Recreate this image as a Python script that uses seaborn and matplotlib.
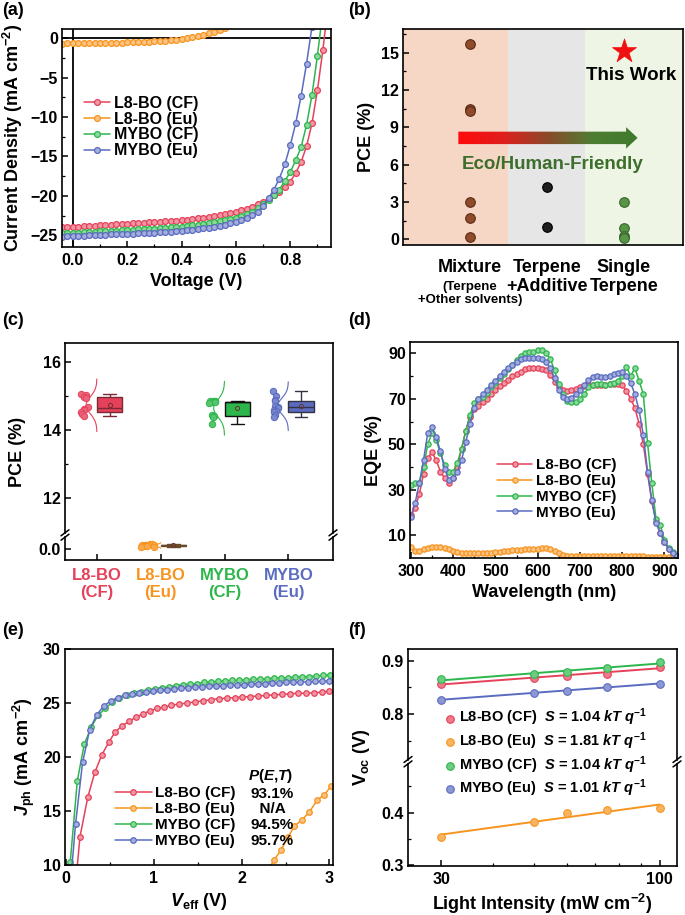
"""Six-panel device figure: J-V, literature PCE, PCE statistics, EQE, Jph-Veff and Voc vs light intensity."""

import matplotlib

matplotlib.use("Agg")
import matplotlib.pyplot as plt
import numpy as np
import seaborn as sns
from matplotlib.colors import LinearSegmentedColormap, to_rgb
from matplotlib.lines import Line2D
from matplotlib.patches import Polygon
from matplotlib.ticker import FixedFormatter, FixedLocator, MultipleLocator, NullFormatter
from matplotlib.transforms import blended_transform_factory

FIG_W, FIG_H = 685, 915

SAMPLES = ["L8-BO (CF)", "L8-BO (Eu)", "MYBO (CF)", "MYBO (Eu)"]
COLORS = ["#E5415A", "#F7941E", "#2DB64B", "#5A6BC0"]

# (a) J-V curves
voltage = [-0.04, -0.02, 0.00, 0.02, 0.04, 0.06, 0.08, 0.10, 0.12, 0.14,
           0.16, 0.18, 0.20, 0.22, 0.24, 0.26, 0.28, 0.30, 0.32, 0.34,
           0.36, 0.38, 0.40, 0.42, 0.44, 0.46, 0.48, 0.50, 0.52, 0.54,
           0.56, 0.58, 0.60, 0.62, 0.64, 0.66, 0.68, 0.70, 0.72, 0.74,
           0.76, 0.78, 0.80, 0.82, 0.84, 0.86, 0.88, 0.90, 0.92, 0.94]
jv_l8bo_cf = [-24.02, -23.98, -23.94, -23.90, -23.86, -23.82, -23.78, -23.74, -23.70, -23.66,
              -23.62, -23.58, -23.54, -23.50, -23.46, -23.42, -23.38, -23.34, -23.30, -23.25,
              -23.20, -23.14, -23.08, -23.01, -22.94, -22.86, -22.78, -22.69, -22.59, -22.48,
              -22.36, -22.22, -22.07, -21.85, -21.62, -21.36, -21.05, -20.72, -20.35, -19.95,
              -19.45, -18.90, -18.20, -17.10, -15.70, -13.70, -10.80, -6.60, -1.50, 4.50]
jv_l8bo_eu = [-0.65, -0.64, -0.63, -0.62, -0.61, -0.60, -0.59, -0.58, -0.57, -0.56,
              -0.55, -0.53, -0.51, -0.49, -0.47, -0.44, -0.41, -0.37, -0.33, -0.28,
              -0.22, -0.15, -0.07, 0.03, 0.15, 0.29, 0.45, 0.63, 0.84, 1.08, 1.36]
jv_mybo_cf = [-24.78, -24.74, -24.70, -24.66, -24.63, -24.59, -24.56, -24.52, -24.48, -24.45,
              -24.41, -24.37, -24.33, -24.30, -24.26, -24.23, -24.19, -24.16, -24.12, -24.07,
              -24.02, -23.96, -23.90, -23.83, -23.75, -23.67, -23.58, -23.48, -23.37, -23.25,
              -23.11, -22.95, -22.77, -22.56, -22.31, -22.00, -21.55, -21.05, -20.55, -19.95,
              -19.20, -18.10, -17.00, -15.50, -13.80, -11.00, -7.20, -2.20, 3.50, 9.00]
jv_mybo_eu = [-25.18, -25.15, -25.12, -25.09, -25.06, -25.03, -25.00, -24.97, -24.94, -24.91,
              -24.88, -24.85, -24.82, -24.79, -24.76, -24.73, -24.70, -24.67, -24.63, -24.59,
              -24.54, -24.49, -24.43, -24.37, -24.30, -24.22, -24.13, -24.03, -23.92, -23.80,
              -23.66, -23.50, -23.32, -23.10, -22.83, -22.48, -22.03, -21.30, -20.30, -19.20,
              -17.80, -16.00, -13.60, -10.80, -7.30, -3.20, 1.50, 6.00, 11.00, 16.00]

# (b) literature PCE by solvent type
solvent_types = ["Mixture", "Terpene\n+Additive", "Single\nTerpene"]
pce_mixture = [15.7, 10.5, 10.3, 3.0, 1.7, 0.2]
pce_additive = [4.2, 1.0]
pce_single = [3.0, 0.9, 0.3, 0.1]
pce_this_work = 15.1

# (c) PCE statistics
pce_l8bo_cf = [15.05, 15.02, 14.98, 14.95, 14.68, 14.62, 14.58, 14.52, 14.47, 14.40]
pce_l8bo_eu = [0.14, 0.13, 0.12, 0.11, 0.10, 0.10, 0.09, 0.08, 0.07, 0.06]
pce_mybo_cf = [14.85, 14.84, 14.84, 14.83, 14.82, 14.80, 14.45, 14.42, 14.38, 14.18]
pce_mybo_eu = [15.15, 15.00, 14.88, 14.85, 14.72, 14.68, 14.65, 14.58, 14.55, 14.52, 14.45, 14.38]
box_tick_labels = ["L8-BO\n(CF)", "L8-BO\n(Eu)", "MYBO\n(CF)", "MYBO\n(Eu)"]

# (d) EQE spectra
wavelength = [300, 310, 320, 330, 340, 350, 360, 370,
              380, 390, 400, 410, 420, 430, 440, 450,
              460, 470, 480, 490, 500, 510, 520, 530,
              540, 550, 560, 570, 580, 590, 600, 610,
              620, 630, 640, 650, 660, 670, 680, 690,
              700, 710, 720, 730, 740, 750, 760, 770,
              780, 790, 800, 810, 820, 830, 840, 850,
              860, 870, 880, 890, 900, 910, 920, 930]
eqe_l8bo_cf = [19, 22, 28, 37, 44, 46.5, 43, 38,
               35, 33, 35, 40, 48, 56, 62, 65.5,
               67, 68.5, 70, 72, 74, 75.5, 77, 78.5,
               80, 81, 82, 83, 83.5, 83.5, 83.5, 83,
               82.5, 80.5, 77.5, 75, 74, 73.5, 74, 74.5,
               75, 75.5, 76, 76, 76, 76, 76, 76.5,
               76.5, 76.5, 76, 73.5, 70, 66, 59, 50,
               37, 25, 16, 11, 7, 4, 2, 1]
eqe_l8bo_eu = [5, 3, 3, 4, 4.5, 5, 5, 5,
               4.5, 4, 3, 2.5, 2.3, 2.2, 2, 2,
               2, 2, 2.2, 2.3, 2.5, 2.7, 2.9, 3.1,
               3.3, 3.5, 3.6, 3.8, 3.9, 4, 4.1, 4.2,
               4.5, 4, 3, 2, 1.2, 1, 1, 1,
               1, 1, 1, 1, 1, 1, 0.9, 0.9,
               0.9, 0.9, 0.8, 0.8, 0.8, 0.7, 0.7, 0.7,
               0.6, 0.6, 0.5, 0.5, 0.4, 0.4, 0.3, 0.3]
eqe_mybo_cf = [32, 33, 33, 40, 50, 55, 52, 46,
               41, 38, 38, 42, 48, 56, 63, 68,
               70, 71, 72.5, 75, 77, 79, 81, 83,
               85, 87, 89, 90, 90.5, 90.5, 91.5, 91.5,
               90, 87.5, 82.5, 76.5, 72, 69, 68.5, 68.5,
               70, 72, 75, 76, 76.5, 76.5, 76, 76.5,
               77, 78, 80, 84, 80, 83.5, 78, 72,
               50.5, 33, 17, 14.5, 8, 4.5, 2.5, 1]
eqe_mybo_eu = [18, 24, 33, 43, 55, 57.5, 53, 47,
               39, 34.5, 35, 38, 43, 51, 59, 66,
               70, 72, 74, 76, 78, 80, 82, 83.5,
               85, 86, 87.5, 88, 88, 88, 88, 87.5,
               86, 83.5, 79, 74, 71, 70, 70.5, 72,
               74, 76, 78.5, 79.5, 80, 79.5, 79.5, 80,
               81, 81.5, 82, 80, 77, 72, 65, 54,
               38, 25.5, 15.5, 11, 7, 4, 2, 1]

# (e) photocurrent vs effective voltage
veff_l8bo_cf = [0.12, 0.16, 0.25, 0.33, 0.41, 0.49, 0.56, 0.64, 0.72, 0.80,
                0.88, 0.96, 1.04, 1.12, 1.20, 1.29, 1.38, 1.47, 1.56, 1.65,
                1.74, 1.83, 1.92, 2.01, 2.10, 2.19, 2.28, 2.37, 2.46, 2.55,
                2.64, 2.73, 2.82, 2.91, 3.00]
jph_l8bo_cf = [9.0, 12.6, 16.3, 18.6, 20.2, 21.4, 22.3, 22.9, 23.3, 23.7,
               24.0, 24.3, 24.5, 24.6, 24.8, 24.9, 25.0, 25.1, 25.2, 25.3,
               25.4, 25.45, 25.5, 25.55, 25.6, 25.65, 25.7, 25.75, 25.8, 25.85,
               25.9, 25.9, 25.95, 26.0, 26.1]
veff_l8bo_eu = [2.29, 2.37, 2.45, 2.53, 2.60, 2.69, 2.77, 2.86, 2.94, 3.02]
jph_l8bo_eu = [9.4, 10.46, 11.4, 12.6, 13.6, 14.2, 14.9, 16.0, 16.5, 17.3]
veff_mybo_cf = [0.05, 0.13, 0.21, 0.29, 0.37, 0.45, 0.53, 0.61, 0.69, 0.77,
                0.85, 0.93, 1.01, 1.09, 1.17, 1.25, 1.33, 1.41, 1.49, 1.57,
                1.65, 1.73, 1.81, 1.89, 1.97, 2.05, 2.13, 2.21, 2.29, 2.37,
                2.45, 2.53, 2.61, 2.69, 2.77, 2.85, 2.93, 3.01]
jph_mybo_cf = [10.3, 17.8, 21.2, 22.8, 23.9, 24.5, 25.1, 25.5, 25.7, 25.9,
               26.0, 26.2, 26.3, 26.4, 26.5, 26.6, 26.7, 26.75, 26.8, 26.9,
               26.95, 27.0, 27.05, 27.1, 27.1, 27.15, 27.2, 27.2, 27.25, 27.3,
               27.3, 27.35, 27.4, 27.45, 27.45, 27.5, 27.55, 27.6]
veff_mybo_eu = [0.06, 0.11, 0.19, 0.27, 0.35, 0.43, 0.51, 0.59, 0.67, 0.75,
                0.83, 0.91, 0.99, 1.07, 1.15, 1.23, 1.31, 1.39, 1.47, 1.55,
                1.63, 1.71, 1.79, 1.87, 1.95, 2.03, 2.11, 2.19, 2.27, 2.35,
                2.43, 2.51, 2.59, 2.67, 2.75, 2.83, 2.91, 2.99]
jph_mybo_eu = [9.0, 13.8, 19.5, 22.5, 23.9, 24.7, 25.2, 25.5, 25.7, 25.8,
               25.9, 26.0, 26.1, 26.2, 26.25, 26.3, 26.35, 26.4, 26.45, 26.5,
               26.55, 26.6, 26.6, 26.65, 26.7, 26.7, 26.75, 26.8, 26.8, 26.85,
               26.85, 26.9, 26.9, 26.95, 26.95, 27.0, 27.0, 27.05]
pet_values = ["93.1%", "  N/A", "94.5%", "95.7%"]

# (f) Voc vs light intensity
light_intensity = [30, 50, 60, 75, 100]
voc_l8bo_cf = [0.857, 0.868, 0.871, 0.876, 0.889]
voc_l8bo_eu = [0.354, 0.382, 0.399, 0.406, 0.408]
voc_mybo_cf = [0.865, 0.875, 0.879, 0.887, 0.897]
voc_mybo_eu = [0.827, 0.839, 0.844, 0.851, 0.857]
slope_labels = ["1.04", "1.81", "1.04", "1.01"]


def tint(color, amount=0.45):
    rgb = np.array(to_rgb(color))
    return tuple(rgb + (1 - rgb) * amount)


def add_ax(fig, left, top, right, bottom):
    """Axes from pixel edges measured from the top-left corner."""
    return fig.add_axes([left / FIG_W, 1 - bottom / FIG_H, (right - left) / FIG_W, (bottom - top) / FIG_H])


def line_style(color, size=4.2):
    return dict(color=color, marker="o", markersize=size, markerfacecolor=tint(color),
                markeredgecolor=color, markeredgewidth=0.9, linewidth=1.1)


def place_legend(fig, ax, x_px, y_px, fontsize, handlelength, labelspacing, loc="center left",
                 handles=None, labels=None, **kwargs):
    if handles is None:
        handles, labels = ax.get_legend_handles_labels()
    if ax is not None and ax.get_legend() is not None:
        ax.get_legend().remove()
    return fig.legend(handles, labels, loc=loc, bbox_to_anchor=(x_px / FIG_W, 1 - y_px / FIG_H),
                      frameon=False, fontsize=fontsize, handlelength=handlelength, handletextpad=0.25,
                      labelspacing=labelspacing, borderpad=0, borderaxespad=0, **kwargs)


def break_marks(fig, x_px, y_px):
    for dy in (-2.2, 2.2):
        fig.add_artist(Line2D([(x_px - 4) / FIG_W, (x_px + 4) / FIG_W],
                              [1 - (y_px + dy + 3) / FIG_H, 1 - (y_px + dy - 3) / FIG_H],
                              transform=fig.transFigure, color="black", lw=1.1))


def panel_label(fig, x_px, y_px, text):
    fig.text(x_px / FIG_W, 1 - y_px / FIG_H, text, fontsize=13, fontweight="bold", va="top", ha="left")


sns.set_theme(style="ticks", rc={
    "axes.linewidth": 1.2, "axes.edgecolor": "black", "axes.labelcolor": "black",
    "text.color": "black", "xtick.color": "black", "ytick.color": "black",
    "xtick.direction": "in", "ytick.direction": "in",
    "xtick.major.size": 4, "ytick.major.size": 4, "xtick.minor.size": 2.2, "ytick.minor.size": 2.2,
    "xtick.major.width": 1.1, "ytick.major.width": 1.1, "xtick.minor.width": 0.9, "ytick.minor.width": 0.9,
    "xtick.labelsize": 11.5, "ytick.labelsize": 11.5, "axes.labelsize": 13,
    "axes.labelweight": "bold", "font.weight": "bold",
    "xtick.major.pad": 4, "ytick.major.pad": 3,
})
plt.rcParams["font.family"] = ["Liberation Sans", "DejaVu Sans"]
plt.rcParams["mathtext.fontset"] = "custom"
plt.rcParams["mathtext.rm"] = "Liberation Sans:bold"
plt.rcParams["mathtext.it"] = "Liberation Sans:italic:bold"
plt.rcParams["mathtext.bf"] = "Liberation Sans:bold"
np.random.seed(7)  # only used for horizontal jitter of the dots in (c)

fig = plt.figure(figsize=(FIG_W / 100, FIG_H / 100), dpi=100)

# ---------------- (a) J-V ----------------
ax_a = add_ax(fig, 62, 29, 331, 247)
ax_a.axhline(0, color="black", lw=1.3, zorder=1.5)
ax_a.axvline(0, color="black", lw=1.3, zorder=1.5)
for name, color, current in zip(SAMPLES, COLORS, [jv_l8bo_cf, jv_l8bo_eu, jv_mybo_cf, jv_mybo_eu]):
    sns.lineplot(x=voltage[:len(current)], y=current, ax=ax_a, label=name, **line_style(color))
ax_a.set_xlim(-0.04, 0.95)
ax_a.set_ylim(-26.5, 1.2)
ax_a.set_xticks([0.0, 0.2, 0.4, 0.6, 0.8])
ax_a.xaxis.set_minor_locator(MultipleLocator(0.1))
ax_a.set_yticks([0, -5, -10, -15, -20, -25])
ax_a.yaxis.set_minor_locator(MultipleLocator(2.5))
ax_a.set_xlabel("Voltage (V)")
ax_a.set_ylabel(r"Current Density (mA cm$^{-2}$)")
place_legend(fig, ax_a, 84, 127, 11.5, 1.6, 0.05)

# ---------------- (b) literature ----------------
ax_b = add_ax(fig, 403, 29, 683, 245)
ax_b.axvspan(-1, 0.5, color="#F6D6C4", lw=0, zorder=0)
ax_b.axvspan(0.5, 1.5, color="#E6E6E6", lw=0, zorder=0)
ax_b.axvspan(1.5, 3, color="#EEF5E5", lw=0, zorder=0)
for pos, values, color, edge in [(0, pce_mixture, "#8E4C2C", "#5C2A14"),
                                  (1, pce_additive, "#1E1E1E", "#000000"),
                                  (2, pce_single, "#5A9449", "#356528")]:
    sns.scatterplot(x=[pos] * len(values), y=values, color=color, edgecolor=edge, linewidth=0.8,
                    s=48, ax=ax_b, zorder=3)
sns.scatterplot(x=[2], y=[pce_this_work], marker="*", s=330, color="#F01010", edgecolor="#F01010",
                linewidth=0.5, ax=ax_b, zorder=4)
ax_b.text(2.1, 13.2, "This Work", ha="center", va="center", fontsize=13.5, fontweight="bold")

# gradient arrow
arrow_x0, arrow_xh, arrow_xt = -0.15, 2.03, 2.18
arrow_yc, arrow_body, arrow_head = 8.15, 0.5, 0.86
arrow = Polygon([(arrow_x0, arrow_yc - arrow_body), (arrow_xh, arrow_yc - arrow_body),
                 (arrow_xh, arrow_yc - arrow_head), (arrow_xt, arrow_yc),
                 (arrow_xh, arrow_yc + arrow_head), (arrow_xh, arrow_yc + arrow_body),
                 (arrow_x0, arrow_yc + arrow_body)], closed=True, facecolor="none", edgecolor="none")
ax_b.add_patch(arrow)
arrow_cmap = LinearSegmentedColormap.from_list("eco", ["#FF0A0A", "#E01E1E", "#8A4A2A", "#4E7E32", "#3F7A2E"])
gradient = ax_b.imshow(np.linspace(0, 1, 256)[None, :], cmap=arrow_cmap, aspect="auto",
                       extent=[arrow_x0, arrow_xt, arrow_yc - arrow_head, arrow_yc + arrow_head], zorder=2)
gradient.set_clip_path(arrow)
ax_b.text(1.07, 6.0, "Eco/Human-Friendly", ha="center", va="center", fontsize=13.5,
          fontweight="bold", color="#3D6E2C", zorder=3)

ax_b.set_xlim(-0.87, 2.77)
ax_b.set_ylim(-0.46, 16.9)
ax_b.set_yticks([0, 3, 6, 9, 12, 15])
ax_b.yaxis.set_minor_locator(MultipleLocator(1.5))
ax_b.set_xticks([0, 1, 2])
ax_b.set_xticklabels(solvent_types, fontsize=13, va="top")
ax_b.tick_params(axis="x", length=0, pad=10)
ax_b.set_ylabel("PCE (%)", fontsize=13)
ax_b.text(0, -0.165, "(Terpene\n+Other solvents)", transform=blended_transform_factory(ax_b.transData, ax_b.transAxes),
          ha="center", va="top", fontsize=9.5, fontweight="bold", linespacing=1.15)

# ---------------- (c) PCE statistics ----------------
ax_c_top = add_ax(fig, 65, 343, 333, 533)
ax_c_bot = add_ax(fig, 65, 537, 333, 560)
box_linecolors = ["#7A2A36", "#6A4A2A", "#111111", "#333344"]
for i, (values, color, lc) in enumerate(zip([pce_l8bo_cf, pce_l8bo_eu, pce_mybo_cf, pce_mybo_eu],
                                             COLORS, box_linecolors)):
    low_group = np.mean(values) < 1
    ax = ax_c_bot if low_group else ax_c_top
    sns.boxplot(x=[i + 0.2] * len(values), y=values, native_scale=True, orient="x", width=0.4,
                color=color, saturation=1, linecolor=lc, linewidth=1.0, whis=(0, 100),
                showmeans=True, meanprops=dict(marker="o", markersize=3, markerfacecolor="none",
                                               markeredgecolor="#6A3030", markeredgewidth=0.7),
                ax=ax)
    sns.stripplot(x=[i - 0.2] * len(values), y=values, native_scale=True, orient="x",
                  jitter=0.11 if low_group else 0.06, color=tint(color, 0.2),
                  edgecolor=color, linewidth=0.7, size=4.6, ax=ax)
    mu, sd = np.mean(values), np.std(values, ddof=1)
    yy = np.linspace(mu - 3.1 * sd, mu + 3.1 * sd, 80)
    pdf = np.exp(-0.5 * ((yy - mu) / sd) ** 2)
    ax.plot(i - 0.17 * pdf, yy, color=color, lw=0.8)

for ax in (ax_c_top, ax_c_bot):
    ax.set_xlim(-0.5, 3.7)
    ax.set_xlabel("")
    ax.set_ylabel("")
ax_c_top.set_ylim(10.99, 16.55)
ax_c_top.set_yticks([12, 14, 16])
ax_c_top.yaxis.set_minor_locator(FixedLocator([13, 15]))
ax_c_top.spines["bottom"].set_visible(False)
ax_c_top.tick_params(axis="x", which="both", bottom=False, labelbottom=False)
ax_c_bot.set_ylim(-0.31, 0.34)
ax_c_bot.set_yticks([0.0])
ax_c_bot.set_yticklabels(["0.0"])
ax_c_bot.spines["top"].set_visible(False)
ax_c_bot.set_xticks([0, 1, 2, 3])
ax_c_bot.set_xticklabels(box_tick_labels, fontsize=12, linespacing=1.15)
for label, color in zip(ax_c_bot.get_xticklabels(), COLORS):
    label.set_color(color)
ax_c_bot.tick_params(axis="x", pad=6)
break_marks(fig, 65, 535)
break_marks(fig, 333, 535)
fig.text(18 / FIG_W, 1 - 452 / FIG_H, "PCE (%)", rotation=90, ha="center", va="center", fontsize=13, fontweight="bold")

# ---------------- (d) EQE ----------------
ax_d = add_ax(fig, 410, 342, 678, 558)
for name, color, eqe in zip(SAMPLES, COLORS, [eqe_l8bo_cf, eqe_l8bo_eu, eqe_mybo_cf, eqe_mybo_eu]):
    sns.lineplot(x=wavelength, y=eqe, ax=ax_d, label=name, **line_style(color, 3.8))
ax_d.set_xlim(298, 932)
ax_d.set_ylim(0, 95)
ax_d.set_xticks([300, 400, 500, 600, 700, 800, 900])
ax_d.xaxis.set_minor_locator(MultipleLocator(50))
ax_d.set_yticks([10, 30, 50, 70, 90])
ax_d.yaxis.set_minor_locator(FixedLocator([20, 40, 60, 80]))
ax_d.set_xlabel("Wavelength (nm)")
ax_d.set_ylabel("EQE (%)")
place_legend(fig, ax_d, 497, 489, 11, 2.3, 0.12)

# ---------------- (e) Jph-Veff ----------------
ax_e = add_ax(fig, 65, 649, 333, 865)
for name, color, veff, jph in zip(SAMPLES, COLORS,
                                  [veff_l8bo_cf, veff_l8bo_eu, veff_mybo_cf, veff_mybo_eu],
                                  [jph_l8bo_cf, jph_l8bo_eu, jph_mybo_cf, jph_mybo_eu]):
    sns.lineplot(x=veff, y=jph, ax=ax_e, label=name, **line_style(color, 4.0))
ax_e.set_xlim(-0.01, 3.04)
ax_e.set_ylim(10, 30)
ax_e.set_xticks([0, 1, 2, 3])
ax_e.xaxis.set_minor_locator(MultipleLocator(0.5))
ax_e.set_yticks([10, 15, 20, 25, 30])
ax_e.set_xlabel(r"$V_{\mathrm{eff}}$ (V)")
ax_e.set_ylabel(r"$J_{\mathrm{ph}}$ (mA cm$^{-2}$)")
# names and P(E,T) values share the same bottom edge, so their rows line up
place_legend(fig, ax_e, 115, 848, 11, 2.4, 0.12, loc="lower left")
value_handles = [Line2D([], [], linestyle="none") for _ in pet_values]
place_legend(fig, None, 247, 848, 11, 0, 0.12, loc="lower left", handles=value_handles, labels=pet_values,
             title=r"$P$($E$,$T$)", title_fontproperties={"size": 11, "weight": "bold"})

# ---------------- (f) Voc vs light intensity ----------------
ax_f_top = add_ax(fig, 408, 649, 677, 759.5)
ax_f_bot = add_ax(fig, 408, 764, 677, 866)
f_labels = [rf"{name}  $S$ = {s} $kT$ $q^{{-1}}$" for name, s in zip(SAMPLES, slope_labels)]
for ax in (ax_f_bot, ax_f_top):
    ax.set_xscale("log")
    for label, color, voc in zip(f_labels, COLORS, [voc_l8bo_cf, voc_l8bo_eu, voc_mybo_cf, voc_mybo_eu]):
        sns.regplot(x=np.array(light_intensity, dtype=float), y=np.array(voc), logx=True, scatter=False,
                    ci=None, color=color, line_kws=dict(lw=1.4), ax=ax)
        sns.scatterplot(x=light_intensity, y=voc, color=tint(color, 0.3), edgecolor=color, linewidth=0.8,
                        s=30, label=label, ax=ax, zorder=3)
    ax.set_xlim(25, 110)
    ax.xaxis.set_major_locator(FixedLocator([30, 100]))
    ax.xaxis.set_major_formatter(FixedFormatter(["30", "100"]))
    ax.xaxis.set_minor_locator(FixedLocator([40, 50, 60, 70, 80, 90]))
    ax.xaxis.set_minor_formatter(NullFormatter())
    ax.set_xlabel("")
    ax.set_ylabel("")
ax_f_top.set_ylim(0.7146, 0.922)
ax_f_top.set_yticks([0.8, 0.9])
ax_f_top.yaxis.set_minor_locator(FixedLocator([0.75, 0.85]))
ax_f_top.spines["bottom"].set_visible(False)
ax_f_top.tick_params(axis="x", which="both", bottom=False, labelbottom=False)
ax_f_bot.set_ylim(0.298, 0.493)
ax_f_bot.set_yticks([0.3, 0.4])
ax_f_bot.yaxis.set_minor_locator(FixedLocator([0.35, 0.45]))
ax_f_bot.spines["top"].set_visible(False)
ax_f_bot.set_xlabel(r"Light Intensity (mW cm$^{-2}$)")
if ax_f_bot.get_legend() is not None:
    ax_f_bot.get_legend().remove()
place_legend(fig, ax_f_top, 444, 753, 10.5, 0.8, 0.14)
break_marks(fig, 408, 761.7)
break_marks(fig, 677, 761.7)
fig.text(362 / FIG_W, 1 - 757 / FIG_H, r"$\mathrm{V}_{\mathrm{oc}}$ (V)", rotation=90, ha="center", va="center",
         fontsize=13, fontweight="bold")

for x_px, y_px, text in [(2, 2, "(a)"), (348, 2, "(b)"), (2, 312, "(c)"), (348, 312, "(d)"),
                         (2, 622, "(e)"), (348, 622, "(f)")]:
    panel_label(fig, x_px, y_px, text)

fig.savefig("out.png", dpi=100)
